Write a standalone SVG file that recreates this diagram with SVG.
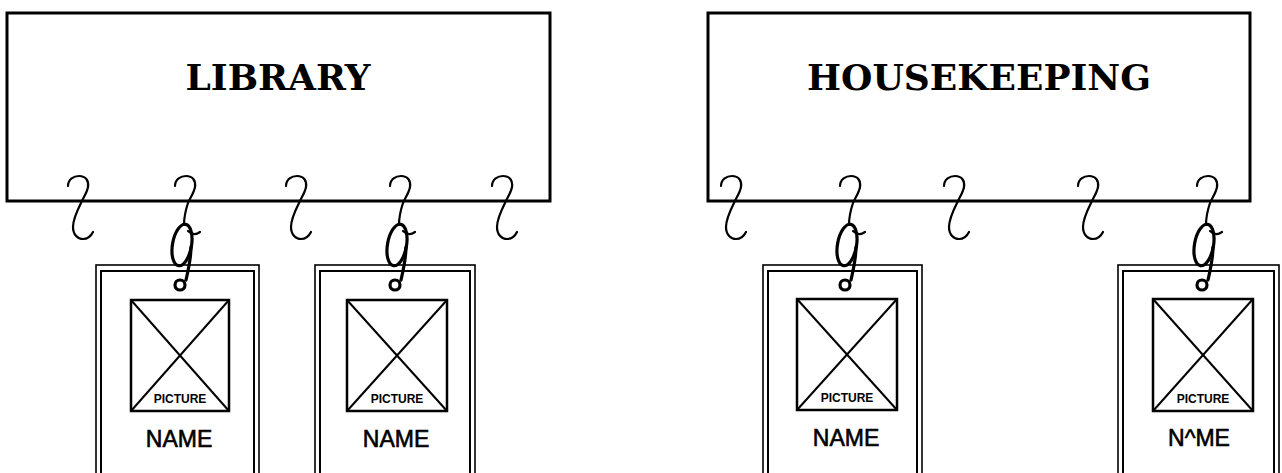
<svg xmlns="http://www.w3.org/2000/svg" width="1282" height="473" viewBox="0 0 1282 473">
<style>
.board{fill:#fff;stroke:#000;stroke-width:3}
.title{font-family:"DejaVu Serif","Liberation Serif",serif;font-weight:bold;font-size:36px;text-anchor:middle;fill:#000}
.outer{fill:#fff;stroke:#000;stroke-width:1.6}
.inner{fill:none;stroke:#000;stroke-width:2}
.pic{fill:none;stroke:#000;stroke-width:2.5}
.diag{stroke:#000;stroke-width:2}
.ptxt{font-family:"Liberation Sans",Arial,sans-serif;font-weight:bold;font-size:12px;text-anchor:middle;fill:#000}
.name{font-family:"Liberation Sans",Arial,sans-serif;font-size:23px;text-anchor:middle;fill:#000;stroke:#000;stroke-width:0.6}
.hk{fill:none;stroke:#000;stroke-width:2.2;stroke-linecap:round}
.loop{fill:none;stroke:#000;stroke-width:3.2;stroke-linecap:round}
</style>
<defs>
<path id="hook" class="hk" d="M -15,-15 C -15,-22 -9,-25 -4,-25 C 3,-25 6,-20 5,-14 C 4,-8 0,-3 -2,2 C -6,10 -10,18 -10,26 C -10,34 -5,38 0,38 C 5,38 8,35 10,31"/>
<g id="taghook">
<path class="hk" d="M -15,-15 C -15,-22 -9,-25 -4,-25 C 3,-25 6,-20 5,-14 C 4,-8 0,-3 -2,2 C -4,8 -6,14 -6,24"/>
<path class="hk" d="M -2,30 C 2,34 6,34 10,31"/>
<ellipse class="loop" cx="-8" cy="44" rx="9.5" ry="21" transform="rotate(10 -8 44)"/>
<path class="loop" d="M 1,46 C 1,58 -2,70 -4,79"/>
<circle class="loop" cx="-10" cy="84" r="5"/>
</g>
</defs>

<g id="library">
<rect class="board" x="7" y="13" width="543" height="188"/>
<text class="title" x="278" y="90">LIBRARY</text>
</g>
<g id="housekeeping">
<rect class="board" x="708" y="13" width="542" height="188"/>
<text class="title" x="979" y="90">HOUSEKEEPING</text>
</g>

<g id="tag1">
<rect class="outer" x="96" y="265" width="163" height="215"/>
<rect class="inner" x="101" y="271" width="153" height="205"/>
<rect class="pic" x="131" y="300" width="98" height="111"/>
<line class="diag" x1="131" y1="300" x2="229" y2="411"/>
<line class="diag" x1="229" y1="300" x2="131" y2="411"/>
<text class="ptxt" x="180" y="403">PICTURE</text>
<text class="name" x="179" y="447">NAME</text>
</g>
<g id="tag2">
<rect class="outer" x="315" y="265" width="160" height="215"/>
<rect class="inner" x="320" y="271" width="150" height="205"/>
<rect class="pic" x="347" y="300" width="100" height="111"/>
<line class="diag" x1="347" y1="300" x2="447" y2="411"/>
<line class="diag" x1="447" y1="300" x2="347" y2="411"/>
<text class="ptxt" x="397" y="403">PICTURE</text>
<text class="name" x="396" y="447">NAME</text>
</g>
<g id="tag3">
<rect class="outer" x="763" y="265" width="159" height="215"/>
<rect class="inner" x="768" y="271" width="149" height="205"/>
<rect class="pic" x="797" y="299" width="100" height="111"/>
<line class="diag" x1="797" y1="299" x2="897" y2="410"/>
<line class="diag" x1="897" y1="299" x2="797" y2="410"/>
<text class="ptxt" x="847" y="402">PICTURE</text>
<text class="name" x="846" y="446">NAME</text>
</g>
<g id="tag4">
<rect class="outer" x="1118" y="265" width="161" height="215"/>
<rect class="inner" x="1123" y="271" width="151" height="205"/>
<rect class="pic" x="1153" y="299" width="100" height="112"/>
<line class="diag" x1="1153" y1="299" x2="1253" y2="411"/>
<line class="diag" x1="1253" y1="299" x2="1153" y2="411"/>
<text class="ptxt" x="1203" y="403">PICTURE</text>
<text class="name" x="1199" y="446">N^ME</text>
</g>

<g id="connectors">
<use href="#hook" x="83" y="201"/>
<use href="#taghook" x="190" y="201"/>
<use href="#hook" x="301" y="201"/>
<use href="#taghook" x="405" y="201"/>
<use href="#hook" x="507" y="201"/>
<use href="#hook" x="736" y="201"/>
<use href="#taghook" x="855" y="201"/>
<use href="#hook" x="959" y="201"/>
<use href="#hook" x="1093" y="201"/>
<use href="#taghook" x="1212" y="201"/>
</g>
</svg>
